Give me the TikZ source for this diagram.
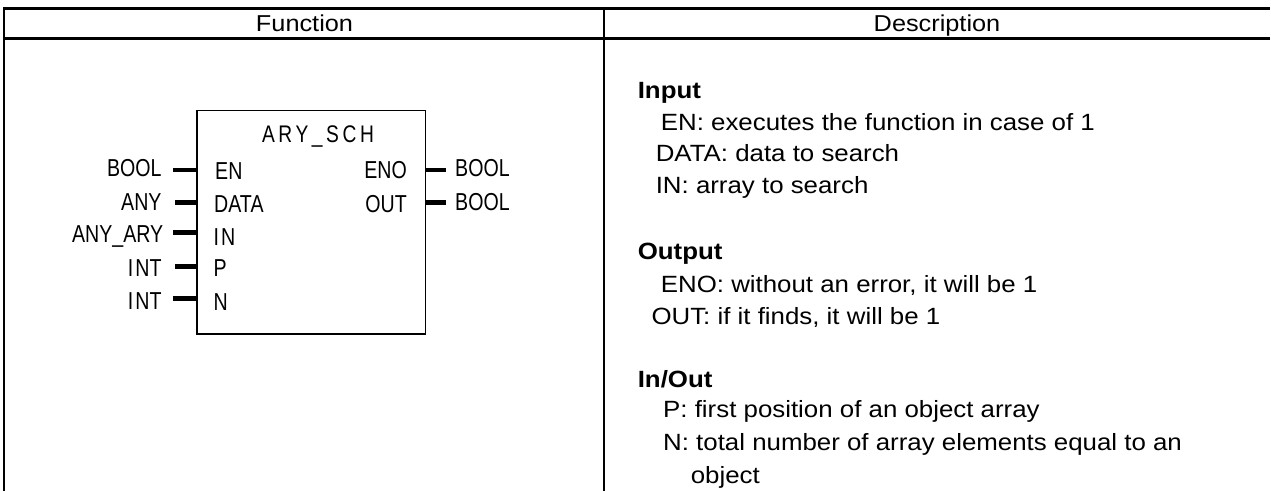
\documentclass[tikz,border=0pt]{standalone}
\usepackage{fontspec}
\setmainfont{Liberation Sans}[FakeStretch=1.1]
\newfontfamily\blkfont{Liberation Sans}[FakeStretch=0.8]
\newfontfamily\blktitle{Liberation Sans}[FakeStretch=0.8,LetterSpace=15]
\begin{document}
\begin{tikzpicture}[x=1pt,y=-1pt,
  tline/.style={line width=2.5pt},
  pinline/.style={line width=4.5pt},
  desc/.style={anchor=base west, inner sep=0pt, font=\fontsize{23.5}{28}\selectfont},
  headtxt/.style={anchor=base, inner sep=0pt, font=\fontsize{23}{28}\selectfont},
  sect/.style={anchor=base west, inner sep=0pt, font=\fontsize{23.5}{28}\selectfont\bfseries},
  blk/.style={inner sep=0pt, font=\blkfont\fontsize{24.5}{28}\selectfont},
  fbox/.style={draw, line width=1.6pt, minimum width=228.6pt, minimum height=223.3pt, inner sep=0pt},
]
\useasboundingbox (0,0) rectangle (1271,491);
% table
\draw[tline] (4,8.3) -- (1270,8.3);
\draw[tline] (4,38.3) -- (1270,38.3);
\draw[tline] (4,7.05) -- (4,491);
\draw[tline] (604,7.05) -- (604,491);
\node[headtxt] (hf) at (304.5,31.7) {Function};
\node[headtxt] (hd) at (937,31.7) {Description};
% function block
\node[fbox] (fb) at (311,222.3) {};
\node[blk, anchor=base, font=\blktitle\fontsize{24}{28}\selectfont] (title) at (318,142.3) {ARY\_SCH};
% left pins
\coordinate (pEN) at (173.3,170);
\coordinate (pDATA) at (175,202.7);
\coordinate (pIN) at (173.3,232.7);
\coordinate (pP) at (175,266.7);
\coordinate (pN) at (173.3,298.3);
\foreach \p in {pEN,pDATA,pIN,pP,pN}
  \draw[pinline] (\p) -- (\p -| fb.west);
\node[blk, anchor=base east] (tEN) at (161.7,176.7) {BOOL};
\node[blk, anchor=base east] (tDATA) at (161.7,210) {ANY};
\node[blk, anchor=base east] (tIN) at (163.5,242) {ANY\_ARY};
\node[blk, anchor=base east] (tP) at (161.7,276) {I\kern2pt NT};
\node[blk, anchor=base east] (tN) at (161.7,309) {I\kern2pt NT};
\node[blk, anchor=base west] (iEN) at (215,179.3) {EN};
\node[blk, anchor=base west] (iDATA) at (214,212.3) {DATA};
\node[blk, anchor=base west] (iIN) at (213.5,245) {I\kern2pt N};
\node[blk, anchor=base west] (iP) at (213.5,276.7) {P};
\node[blk, anchor=base west] (iN) at (213.5,310) {N};
% right pins
\coordinate (pENO) at (446,170);
\coordinate (pOUT) at (446,202.7);
\foreach \p in {pENO,pOUT}
  \draw[pinline] (\p -| fb.east) -- (\p);
\node[blk, anchor=base east] (iENO) at (407,178) {ENO};
\node[blk, anchor=base east] (iOUT) at (407,212) {OUT};
\node[blk, anchor=base west] (tENO) at (455,176.7) {BOOL};
\node[blk, anchor=base west] (tOUT) at (455,210) {BOOL};
% description
\node[sect] (s1) at (637.6,98.3) {Input};
\node[desc] (d1) at (660.7,130.5) {EN: executes the function in case of 1};
\node[desc] (d2) at (655.6,161.7) {DATA: data to search};
\node[desc] (d3) at (655.6,193) {IN: array to search};
\node[sect] (s2) at (637.6,259) {Output};
\node[desc] (d4) at (660.7,292) {ENO: without an error, it will be 1};
\node[desc] (d5) at (651.3,324) {OUT: if it finds, it will be 1};
\node[sect] (s3) at (637.6,387) {In/Out};
\node[desc] (d6) at (663,417) {P: first position of an object array};
\node[desc] (d7) at (663,450) {N: total number of array elements equal to an};
\node[desc] (d8) at (690.6,483) {object};
\end{tikzpicture}
\end{document}
